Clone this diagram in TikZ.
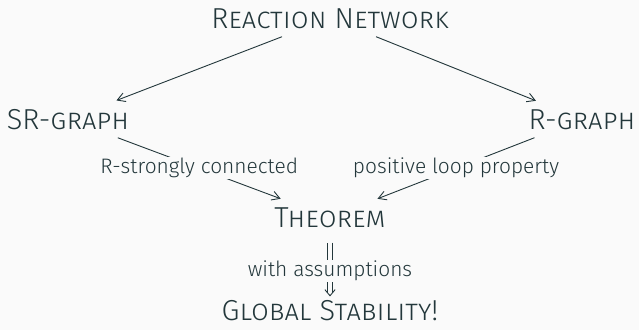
\documentclass[tikz,border=0pt]{standalone}
\usepackage{fontspec}
\setmainfont{Fira Sans}[UprightFont = * Light]
\usetikzlibrary{arrows.meta, calc}
\definecolor{darkteal}{HTML}{23373B}
\definecolor{paper}{HTML}{FAFAFA}

\begin{document}
\begin{tikzpicture}[
    x = 1bp, y = -1bp,
    line width = 0.9bp,
    darkteal,
    stage/.style = {text = darkteal,
      font = \fontsize{29}{32}\selectfont\scshape,
      inner sep = 8bp},
    condition/.style = {text = darkteal,
      font = \fontsize{21}{24}\selectfont,
      fill = paper,
      inner sep = 1bp},
    implication/.style = {line width = 6bp,
      shorten <= 7bp, shorten >= 3bp,
      postaction = {draw = paper, line width = 3.8bp}},
    implication tip/.style = {draw = paper,
      line width = 1bp,
      shorten <= 8bp,
      -{Straight Barb[darkteal, line width = 0.9bp, angle = 80:8bp]}},
    >= {Straight Barb[angle = 60:9bp]}
    ]

    \fill [paper] (0, 0) rectangle (639, 330);
    \useasboundingbox (0, 0) rectangle (639, 330);

    \node at (330, 28) [stage, anchor = base, name = RN] {Reaction Network};
    \node at (68, 129) [stage, anchor = base, name = SR] {SR-graph};
    \node at (582, 129) [stage, anchor = base, name = R] {R-graph};
    \node at (330, 227) [stage, anchor = base, name = TH] {Theorem};
    \node at (330, 320) [stage, anchor = base, inner ysep = 3bp, name = GS] {Global Stability!};

    \draw [->] (RN) to (SR);
    \draw [->] (RN) to (R);
    \draw [->] (SR) to node [condition] {R-strongly connected} (TH);
    \draw [->] (R) to node [condition] {positive loop property} (TH);

    % double arrow, drawn by hand
    \draw [implication] (TH) to (GS);
    \draw [implication tip] (TH) to node [condition, pos = 0.58] {with assumptions} (GS);

  \end{tikzpicture}
\end{document}
